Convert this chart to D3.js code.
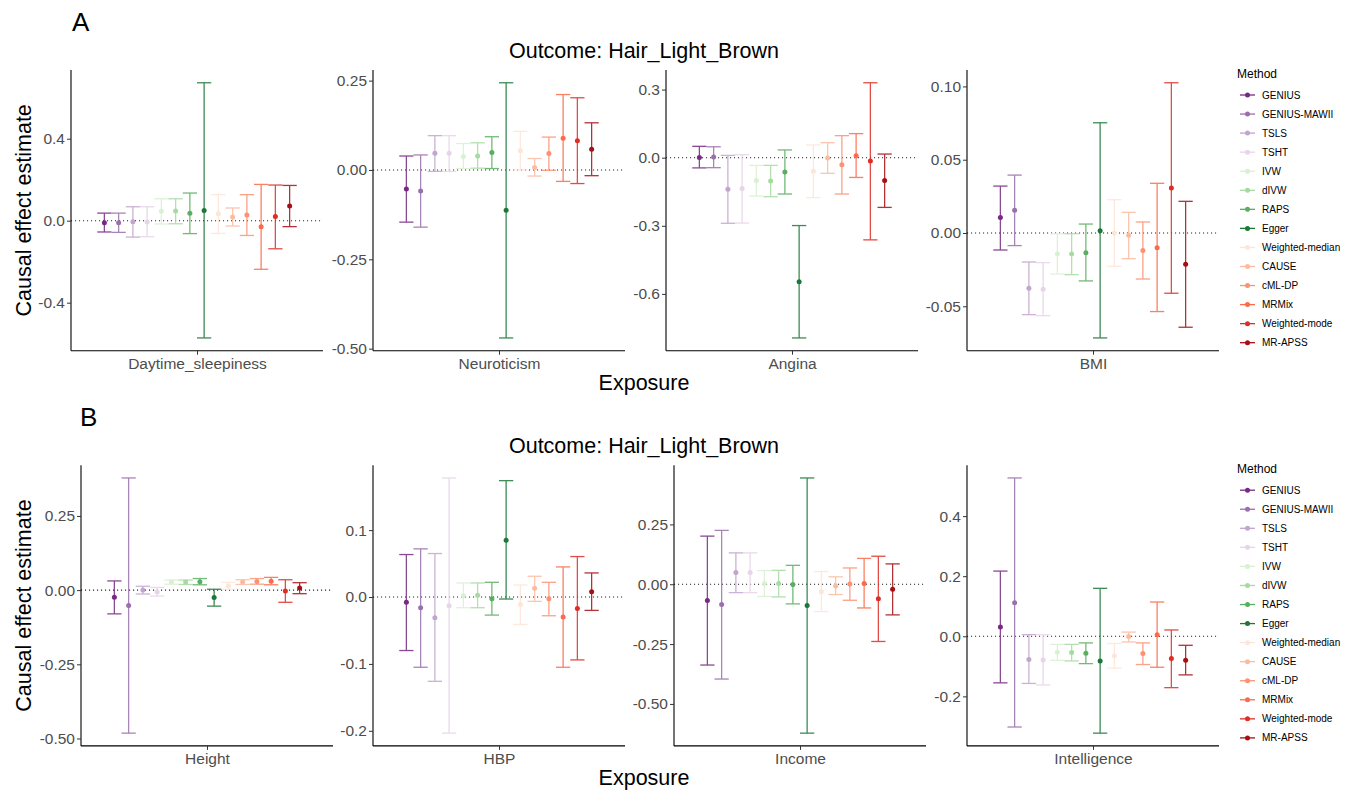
<!DOCTYPE html>
<html>
<head>
<meta charset="utf-8">
<script src="https://cdn.jsdelivr.net/npm/d3@7/dist/d3.min.js"></script>
<style>
  html, body { margin: 0; padding: 0; background: #fff; }
  svg { display: block; font-family: "Liberation Sans", Arial, Helvetica, sans-serif; }
</style>
</head>
<body>
<svg id="chart" width="1353" height="793"></svg>
<script>
// MR methods, in plotting / legend order
const methods = ["GENIUS", "GENIUS-MAWII", "TSLS", "TSHT", "IVW", "dIVW", "RAPS", "Egger",
  "Weighted-median", "CAUSE", "cML-DP", "MRMix", "Weighted-mode", "MR-APSS"];
// PRGn (8) for the first block, Reds (6) for the second
const methodColors = ["#762a83", "#9970ab", "#c2a5cf", "#e7d4e8", "#d9f0d3", "#a6dba0", "#5aae61", "#1b7837",
  "#fee5d9", "#fcbba1", "#fc9272", "#fb6a4a", "#de2d26", "#a50f15"];

const outcome = "Hair_Light_Brown";
const panelLetters = ["A", "B"];
const exposuresA = ["Daytime_sleepiness", "Neuroticism", "Angina", "BMI"];
const exposuresB = ["Height", "HBP", "Income", "Intelligence"];

// [estimate, lower 95% CI, upper 95% CI] for each method
const daytimeSleepiness = [
  [-0.010, -0.055, 0.037], [-0.010, -0.057, 0.037], [-0.005, -0.080, 0.068], [-0.006, -0.078, 0.068],
  [0.046, -0.016, 0.107], [0.047, -0.015, 0.107], [0.036, -0.063, 0.135], [0.050, -0.572, 0.673],
  [0.034, -0.062, 0.127], [0.018, -0.026, 0.062], [0.028, -0.072, 0.127], [-0.029, -0.237, 0.177],
  [0.020, -0.137, 0.174], [0.072, -0.029, 0.172]];
const neuroticism = [
  [-0.053, -0.146, 0.039], [-0.059, -0.160, 0.042], [0.047, -0.004, 0.096], [0.047, -0.004, 0.096],
  [0.038, 0.004, 0.074], [0.039, 0.005, 0.076], [0.049, 0.004, 0.093], [-0.113, -0.470, 0.244],
  [0.054, 0.000, 0.108], [0.007, -0.017, 0.032], [0.046, -0.001, 0.092], [0.089, -0.032, 0.211],
  [0.082, -0.038, 0.202], [0.058, -0.016, 0.132]];
const angina = [
  [0.001, -0.045, 0.050], [0.003, -0.044, 0.048], [-0.139, -0.289, 0.010], [-0.136, -0.288, 0.013],
  [-0.101, -0.169, -0.034], [-0.103, -0.172, -0.034], [-0.063, -0.160, 0.034], [-0.547, -0.794, -0.299],
  [-0.060, -0.176, 0.056], [-0.001, -0.069, 0.066], [-0.031, -0.160, 0.097], [0.009, -0.087, 0.106],
  [-0.015, -0.362, 0.330], [-0.101, -0.219, 0.016]];
const bmi = [
  [0.0105, -0.0116, 0.0320], [0.0155, -0.0086, 0.0395], [-0.0377, -0.0557, -0.0198], [-0.0384, -0.0564, -0.0202],
  [-0.0143, -0.0280, -0.0005], [-0.0143, -0.0284, -0.0005], [-0.0134, -0.0327, 0.0061], [0.0016, -0.0716, 0.0752],
  [0.0000, -0.0227, 0.0227], [-0.0016, -0.0175, 0.0141], [-0.0120, -0.0314, 0.0075], [-0.0100, -0.0536, 0.0339],
  [0.0307, -0.0411, 0.1025], [-0.0214, -0.0643, 0.0216]];
const height = [
  [-0.024, -0.080, 0.031], [-0.052, -0.482, 0.378], [0.000, -0.013, 0.013], [-0.006, -0.020, 0.009],
  [0.027, 0.020, 0.034], [0.027, 0.019, 0.034], [0.028, 0.018, 0.039], [-0.025, -0.054, 0.003],
  [0.015, 0.003, 0.026], [0.027, 0.019, 0.035], [0.029, 0.020, 0.039], [0.030, 0.018, 0.043],
  [-0.003, -0.041, 0.035], [0.007, -0.012, 0.025]];
const hbp = [
  [-0.008, -0.080, 0.0635], [-0.016, -0.105, 0.072], [-0.031, -0.126, 0.065], [-0.013, -0.2035, 0.178],
  [0.002, -0.016, 0.021], [0.0025, -0.016, 0.021], [-0.0025, -0.027, 0.022], [0.085, -0.003, 0.174],
  [-0.011, -0.041, 0.018], [0.013, -0.0065, 0.031], [-0.0025, -0.028, 0.022], [-0.030, -0.105, 0.045],
  [-0.017, -0.094, 0.0605], [0.008, -0.020, 0.036]];
const income = [
  [-0.068, -0.3375, 0.201], [-0.085, -0.396, 0.225], [0.049, -0.035, 0.131], [0.049, -0.035, 0.131],
  [0.003, -0.051, 0.057], [0.003, -0.053, 0.058], [-0.001, -0.082, 0.079], [-0.089, -0.622, 0.444],
  [-0.031, -0.114, 0.053], [-0.007, -0.043, 0.031], [0.001, -0.067, 0.068], [0.003, -0.099, 0.108],
  [-0.061, -0.239, 0.117], [-0.021, -0.128, 0.085]];
const intelligence = [
  [0.031, -0.155, 0.217], [0.112, -0.302, 0.527], [-0.0776, -0.157, 0.0055], [-0.079, -0.162, 0.0055],
  [-0.053, -0.080, -0.027], [-0.054, -0.082, -0.027], [-0.0565, -0.091, -0.022], [-0.082, -0.3224, 0.1596],
  [-0.065, -0.106, -0.024], [-0.001, -0.019, 0.014], [-0.0576, -0.094, -0.022], [0.0055, -0.103, 0.114],
  [-0.074, -0.171, 0.021], [-0.080, -0.1285, -0.030]];

// y-axis tick values per panel
const ticksDaytime = [-0.4, 0, 0.4];
const ticksNeuroticism = [-0.5, -0.25, 0, 0.25];
const ticksAngina = [-0.6, -0.3, 0, 0.3];
const ticksBMI = [-0.05, 0, 0.05, 0.1];
const ticksHeight = [-0.5, -0.25, 0, 0.25];
const ticksHBP = [-0.2, -0.1, 0, 0.1];
const ticksIncome = [-0.5, -0.25, 0, 0.25];
const ticksIntelligence = [-0.2, 0, 0.2, 0.4];

const rows = [
  { letter: panelLetters[0], exposures: exposuresA,
    data: [daytimeSleepiness, neuroticism, angina, bmi],
    ticks: [ticksDaytime, ticksNeuroticism, ticksAngina, ticksBMI],
    formats: [".1f", ".2f", ".1f", ".2f"] },
  { letter: panelLetters[1], exposures: exposuresB,
    data: [height, hbp, income, intelligence],
    ticks: [ticksHeight, ticksHBP, ticksIncome, ticksIntelligence],
    formats: [".2f", ".1f", ".2f", ".1f"] }
];

// ---- layout ----
const rowOffset = 395.2;
const panelTop = 70, panelBottom = 350.7;
const panelWidth = 252;
const panelLefts = [[71, 373, 666, 967], [81, 373, 674, 967]];
const legendX = 1240;

const svg = d3.select("#chart");
const fontTick = 15.5, fontTitle = 21.5;

// dodge positions of the methods within the single discrete x slot
const dodge = d3.scaleBand().domain(methods).range([1 - 0.475, 1 + 0.475]);

rows.forEach((row, ri) => {
  const oy = ri * rowOffset;
  const g = svg.append("g").attr("transform", `translate(0,${oy})`);

  // tag letter
  g.append("text").attr("x", ri === 0 ? 72 : 80).attr("y", 31)
    .attr("font-size", 26).attr("fill", "#000").text(row.letter);

  // overall title
  g.append("text").attr("x", 644).attr("y", 57.5).attr("text-anchor", "middle")
    .attr("font-size", fontTitle).attr("fill", "#000").text("Outcome: " + outcome);

  // shared axis titles
  g.append("text").attr("x", 644).attr("y", 390).attr("text-anchor", "middle")
    .attr("font-size", fontTitle).attr("fill", "#000").text("Exposure");
  g.append("text")
    .attr("transform", `translate(31,${(panelTop + panelBottom) / 2}) rotate(-90)`)
    .attr("text-anchor", "middle").attr("font-size", fontTitle).attr("fill", "#000")
    .text("Causal effect estimate");

  row.exposures.forEach((expo, pi) => {
    const rows3 = row.data[pi];
    const left = panelLefts[ri][pi];
    const x = d3.scaleLinear().domain([0.4, 1.6]).range([left, left + panelWidth]);
    const lo = d3.min(rows3, d => d[1]), hi = d3.max(rows3, d => d[2]);
    const pad = (hi - lo) * 0.05;
    const y = d3.scaleLinear().domain([lo - pad, hi + pad]).range([panelBottom, panelTop]);

    const pg = g.append("g");

    // reference line at zero
    pg.append("line")
      .attr("x1", left).attr("x2", left + panelWidth)
      .attr("y1", y(0)).attr("y2", y(0))
      .attr("stroke", "#222").attr("stroke-width", 1.1)
      .attr("stroke-dasharray", "1.1 2.9");

    const items = rows3.map((d, i) => ({ method: methods[i], color: methodColors[i], est: d[0], lo: d[1], hi: d[2] }));
    const bw = dodge.bandwidth();
    const cx = d => x(dodge(d.method) + bw / 2);
    const capHalf = (x(1 + bw) - x(1)) / 2;

    const bars = pg.selectAll("g.bar").data(items).join("g").attr("class", "bar")
      .attr("stroke", d => d.color).attr("stroke-width", 1.3).attr("opacity", 0.85);
    bars.append("line").attr("x1", cx).attr("x2", cx)
      .attr("y1", d => y(d.lo)).attr("y2", d => y(d.hi));
    bars.append("line").attr("x1", d => cx(d) - capHalf).attr("x2", d => cx(d) + capHalf)
      .attr("y1", d => y(d.hi)).attr("y2", d => y(d.hi));
    bars.append("line").attr("x1", d => cx(d) - capHalf).attr("x2", d => cx(d) + capHalf)
      .attr("y1", d => y(d.lo)).attr("y2", d => y(d.lo));

    pg.selectAll("circle.pt").data(items).join("circle").attr("class", "pt")
      .attr("cx", cx).attr("cy", d => y(d.est)).attr("r", 2.5)
      .attr("fill", d => d.color);

    // y axis
    const yAxis = d3.axisLeft(y).tickValues(row.ticks[pi])
      .tickFormat(d => d3.format(row.formats[pi])(d).replace("−", "-")).tickSize(4).tickPadding(2);
    const ya = pg.append("g").attr("transform", `translate(${left},0)`).call(yAxis)
      .attr("font-family", null).attr("font-size", null);
    ya.select(".domain").attr("stroke", "#000").attr("stroke-width", 1.1)
      .attr("d", `M0,${panelTop}V${panelBottom}`);
    ya.selectAll(".tick line").attr("stroke", "#333");
    ya.selectAll(".tick text").attr("fill", "#4d4d4d").attr("font-size", fontTick);

    // x axis
    const xAxis = d3.axisBottom(x).tickValues([1]).tickFormat(() => expo).tickSize(4).tickPadding(3);
    const xa = pg.append("g").attr("transform", `translate(0,${panelBottom})`).call(xAxis)
      .attr("font-family", null).attr("font-size", null);
    xa.select(".domain").attr("stroke", "#000").attr("stroke-width", 1.1)
      .attr("d", `M${left},0H${left + panelWidth}`);
    xa.selectAll(".tick line").attr("stroke", "#333");
    xa.selectAll(".tick text").attr("fill", "#4d4d4d").attr("font-size", fontTick);
  });

  // legend
  const lg = g.append("g");
  lg.append("text").attr("x", legendX - 3).attr("y", 78).attr("font-size", 12)
    .attr("fill", "#000").text("Method");
  const ly = d3.scalePoint().domain(methods).range([95, 342.7]);
  const li = lg.selectAll("g.item").data(methods).join("g").attr("class", "item")
    .attr("transform", d => `translate(${legendX},${ly(d)})`);
  li.append("line").attr("x1", 0).attr("x2", 15).attr("y1", 0).attr("y2", 0)
    .attr("stroke", (d, i) => methodColors[i]).attr("stroke-width", 1.3);
  li.append("circle").attr("cx", 7.5).attr("cy", 0).attr("r", 2.5)
    .attr("fill", (d, i) => methodColors[i]);
  li.append("text").attr("x", 22).attr("y", 3.5).attr("font-size", 10)
    .attr("fill", "#000").text(d => d);
});
</script>
</body>
</html>
